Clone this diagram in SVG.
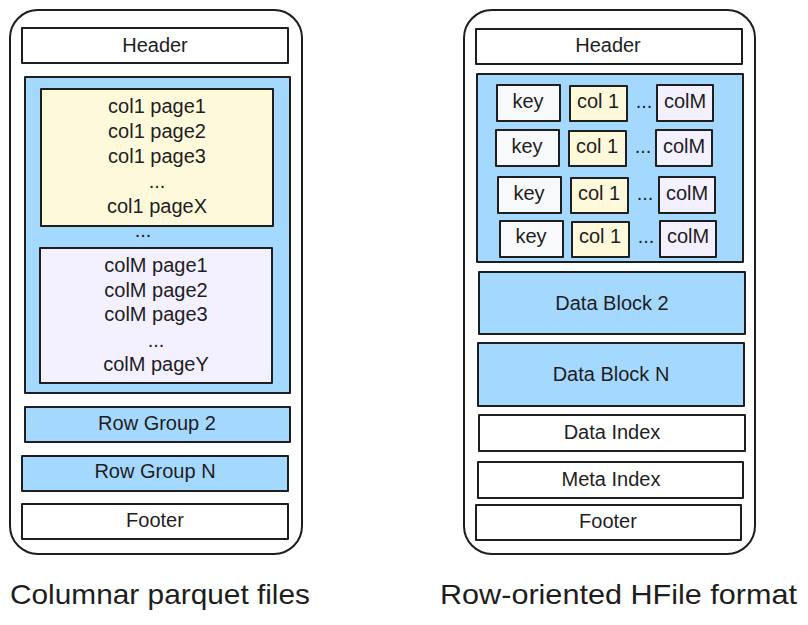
<svg xmlns="http://www.w3.org/2000/svg" width="808" height="625" viewBox="0 0 808 625">
<style>
  .box{stroke:#1e1e1e;stroke-width:2;stroke-linejoin:round}
  .w{fill:#ffffff}
  .b{fill:#a5d8ff}
  .y{fill:#fff9db}
  .l{fill:#f3f0ff}
  .k{fill:#f8f9fa}
  .frame{fill:#ffffff;stroke:#1e1e1e;stroke-width:2}
  text{font-family:"Liberation Sans","DejaVu Sans",sans-serif;font-size:20px;fill:#1e1e1e;text-anchor:middle}
  .cap{font-size:28px;text-anchor:start}
</style>
<rect width="808" height="625" fill="#ffffff"/>

<!-- Left: parquet -->
<g id="parquet-file">
  <rect class="frame" x="10" y="10" width="292" height="544" rx="28"/>
</g>
<g id="p-header"><rect class="box w" x="22" y="28" width="266" height="35"/><text x="155" y="52">Header</text></g>
<g id="p-rowgroup1">
  <rect class="box b" x="25" y="77" width="265" height="316"/>
  <text x="143" y="237">...</text>
</g>
<g id="p-col1">
  <rect class="box y" x="41" y="89" width="232" height="137"/>
  <text x="157" y="113">col1 page1</text>
  <text x="157" y="138">col1 page2</text>
  <text x="157" y="163">col1 page3</text>
  <text x="157" y="188">...</text>
  <text x="157" y="213">col1 pageX</text>
</g>
<g id="p-colM">
  <rect class="box l" x="40" y="248" width="232" height="135"/>
  <text x="156" y="272">colM page1</text>
  <text x="156" y="297">colM page2</text>
  <text x="156" y="321">colM page3</text>
  <text x="156" y="347">...</text>
  <text x="156" y="371">colM pageY</text>
</g>
<g id="p-rowgroup2"><rect class="box b" x="25" y="407" width="265" height="35"/><text x="157" y="430">Row Group 2</text></g>
<g id="p-rowgroupN"><rect class="box b" x="22" y="456" width="266" height="35"/><text x="155" y="478">Row Group N</text></g>
<g id="p-footer"><rect class="box w" x="22" y="504" width="266" height="35"/><text x="155" y="527">Footer</text></g>

<!-- Right: HFile -->
<g id="hfile">
  <rect class="frame" x="464" y="10" width="291" height="544" rx="28"/>
</g>
<g id="h-header"><rect class="box w" x="476" y="29" width="266" height="35"/><text x="608" y="52">Header</text></g>
<g id="h-datablock1">
  <rect class="box b" x="477" y="74" width="266" height="188"/>
</g>
<g id="h-row1">
  <rect class="box k" x="497" y="85" width="63" height="36"/><text x="528" y="108">key</text>
  <rect class="box y" x="570" y="86" width="57" height="35"/><text x="598" y="108">col 1</text>
  <text x="644" y="108">...</text>
  <rect class="box l" x="657" y="85" width="56" height="36"/><text x="685" y="108">colM</text>
</g>
<g id="h-row2">
  <rect class="box k" x="496" y="130" width="63" height="36"/><text x="527" y="153">key</text>
  <rect class="box y" x="569" y="131" width="57" height="35"/><text x="597" y="153">col 1</text>
  <text x="643" y="153">...</text>
  <rect class="box l" x="656" y="130" width="56" height="36"/><text x="684" y="153">colM</text>
</g>
<g id="h-row3">
  <rect class="box k" x="498" y="177" width="63" height="36"/><text x="529" y="200">key</text>
  <rect class="box y" x="571" y="178" width="57" height="35"/><text x="599" y="200">col 1</text>
  <text x="645" y="200">...</text>
  <rect class="box l" x="659" y="177" width="56" height="36"/><text x="687" y="200">colM</text>
</g>
<g id="h-row4">
  <rect class="box k" x="500" y="221" width="63" height="36"/><text x="531" y="243">key</text>
  <rect class="box y" x="572" y="222" width="57" height="35"/><text x="600" y="243">col 1</text>
  <text x="646" y="243">...</text>
  <rect class="box l" x="660" y="221" width="56" height="36"/><text x="688" y="243">colM</text>
</g>
<g id="h-datablock2"><rect class="box b" x="479" y="272" width="266" height="62"/><text x="612" y="310">Data Block 2</text></g>
<g id="h-datablockN"><rect class="box b" x="478" y="343" width="266" height="63"/><text x="611" y="381">Data Block N</text></g>
<g id="h-dataindex"><rect class="box w" x="479" y="415" width="266" height="36"/><text x="612" y="439">Data Index</text></g>
<g id="h-metaindex"><rect class="box w" x="478" y="462" width="265" height="36"/><text x="611" y="486">Meta Index</text></g>
<g id="h-footer"><rect class="box w" x="476" y="505" width="265" height="35"/><text x="608" y="528">Footer</text></g>

<!-- Captions -->
<g id="caption-left"><text class="cap" x="10" y="604" textLength="300" lengthAdjust="spacingAndGlyphs">Columnar parquet files</text></g>
<g id="caption-right"><text class="cap" x="440" y="604" textLength="357" lengthAdjust="spacingAndGlyphs">Row-oriented HFile format</text></g>
</svg>
